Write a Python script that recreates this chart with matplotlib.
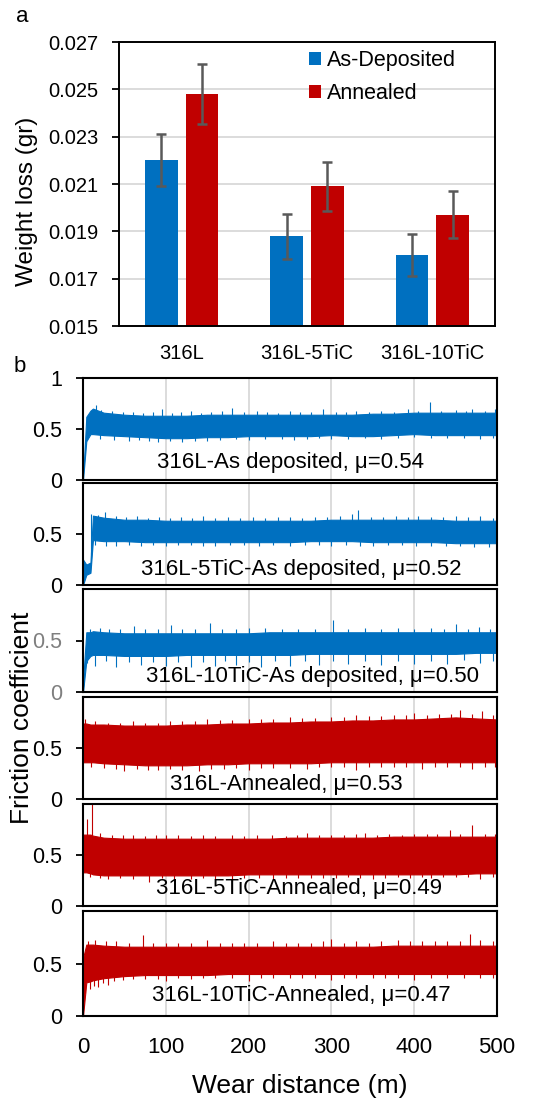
import numpy as np
import matplotlib
matplotlib.use("Agg")
import matplotlib.pyplot as plt

plt.rcParams['font.family'] = ['Liberation Sans', 'DejaVu Sans']

# ---- (a) weight loss data ----
alloys = ['316L', '316L-5TiC', '316L-10TiC']
as_deposited = [0.0220, 0.0188, 0.0180]
as_deposited_err = [0.00110, 0.00095, 0.00090]
annealed = [0.0248, 0.0209, 0.0197]
annealed_err = [0.00125, 0.00105, 0.00100]

# ---- (b) friction traces: band envelopes ----
dist = [0, 4, 9, 12, 25, 50, 75, 100, 125, 150, 175, 200, 225, 250, 275, 300,
        325, 350, 375, 400, 425, 450, 475, 500]

trace_names = ['316L-As deposited, \u03bc=0.54', '316L-5TiC-As deposited, \u03bc=0.52',
               '316L-10TiC-As deposited, \u03bc=0.50', '316L-Annealed, \u03bc=0.53',
               '316L-5TiC-Annealed, \u03bc=0.49', '316L-10TiC-Annealed, \u03bc=0.47']

upper_316L_ad = [0.00, 0.62, 0.68, 0.70, 0.66, 0.64, 0.63, 0.63, 0.63, 0.64, 0.64, 0.64,
                 0.64, 0.64, 0.64, 0.64, 0.64, 0.65, 0.65, 0.66, 0.66, 0.66, 0.66, 0.66]
lower_316L_ad = [0.00, 0.38, 0.45, 0.45, 0.44, 0.43, 0.42, 0.41, 0.41, 0.42, 0.42, 0.43,
                 0.43, 0.43, 0.43, 0.44, 0.43, 0.43, 0.44, 0.45, 0.44, 0.44, 0.44, 0.44]
upper_5TiC_ad = [0.25, 0.20, 0.22, 0.68, 0.66, 0.64, 0.64, 0.63, 0.63, 0.63, 0.63, 0.63,
                 0.63, 0.63, 0.63, 0.64, 0.64, 0.64, 0.64, 0.64, 0.64, 0.63, 0.63, 0.63]
lower_5TiC_ad = [0.00, 0.10, 0.12, 0.44, 0.43, 0.43, 0.42, 0.42, 0.42, 0.42, 0.42, 0.42,
                 0.42, 0.42, 0.43, 0.43, 0.43, 0.42, 0.42, 0.42, 0.42, 0.41, 0.41, 0.41]
upper_10TiC_ad = [0.10, 0.58, 0.58, 0.59, 0.58, 0.57, 0.57, 0.57, 0.57, 0.57, 0.57, 0.57,
                  0.58, 0.58, 0.58, 0.58, 0.58, 0.58, 0.58, 0.58, 0.58, 0.58, 0.58, 0.58]
lower_10TiC_ad = [0.00, 0.30, 0.35, 0.36, 0.36, 0.35, 0.35, 0.35, 0.36, 0.36, 0.36, 0.36,
                  0.36, 0.36, 0.37, 0.37, 0.37, 0.37, 0.37, 0.37, 0.37, 0.37, 0.38, 0.38]
upper_316L_an = [0.74, 0.74, 0.73, 0.73, 0.73, 0.72, 0.72, 0.72, 0.73, 0.73, 0.74, 0.74,
                 0.75, 0.75, 0.76, 0.76, 0.77, 0.77, 0.78, 0.78, 0.79, 0.80, 0.79, 0.78]
lower_316L_an = [0.36, 0.36, 0.36, 0.36, 0.35, 0.34, 0.33, 0.33, 0.33, 0.34, 0.34, 0.35,
                 0.35, 0.35, 0.35, 0.36, 0.36, 0.36, 0.36, 0.36, 0.36, 0.36, 0.36, 0.36]
upper_5TiC_an = [0.70, 0.70, 0.70, 0.69, 0.67, 0.66, 0.66, 0.66, 0.66, 0.66, 0.66, 0.66,
                 0.66, 0.67, 0.67, 0.67, 0.67, 0.67, 0.68, 0.68, 0.68, 0.68, 0.68, 0.68]
lower_5TiC_an = [0.33, 0.33, 0.32, 0.31, 0.30, 0.30, 0.30, 0.30, 0.30, 0.30, 0.30, 0.31,
                 0.31, 0.31, 0.31, 0.31, 0.31, 0.31, 0.31, 0.31, 0.31, 0.31, 0.32, 0.32]
upper_10TiC_an = [0.55, 0.68, 0.68, 0.68, 0.67, 0.66, 0.66, 0.66, 0.66, 0.66, 0.66, 0.66,
                  0.66, 0.66, 0.66, 0.66, 0.66, 0.66, 0.67, 0.67, 0.67, 0.67, 0.67, 0.67]
lower_10TiC_an = [0.00, 0.32, 0.33, 0.34, 0.36, 0.38, 0.39, 0.39, 0.39, 0.39, 0.40, 0.40,
                  0.40, 0.40, 0.40, 0.40, 0.40, 0.40, 0.40, 0.40, 0.40, 0.40, 0.40, 0.40]

# spikes sticking out of the band: (distance m, friction value)
spikes_up_316L_ad = [(16, .74), (22, .69), (35, .68), (48, .67), (60, .67), (72, .66), (84, .67),
                     (95, .70), (108, .66), (118, .67), (130, .68), (142, .66), (155, .67),
                     (168, .68), (180, .71), (195, .67), (210, .68), (222, .67), (235, .66),
                     (250, .68), (262, .67), (275, .67), (290, .70), (305, .67), (318, .67),
                     (330, .68), (345, .67), (360, .68), (375, .67), (392, .70), (405, .68),
                     (419, .76), (432, .68), (450, .69), (462, .68), (470, .70), (485, .68),
                     (498, .70)]
spikes_dn_316L_ad = [(20, .40), (38, .39), (55, .38), (68, .39), (80, .38), (90, .37), (105, .38),
                     (120, .37), (135, .38), (150, .38), (165, .39), (185, .40), (200, .39),
                     (220, .40), (240, .40), (255, .39), (270, .40), (285, .41), (300, .40),
                     (320, .40), (340, .41), (360, .40), (380, .41), (400, .42), (420, .41),
                     (440, .41), (460, .41), (480, .40), (495, .41)]
spikes_up_5TiC_ad = [(10, .70), (18, .69), (27, .72), (40, .68), (52, .67), (65, .68), (78, .66),
                     (92, .67), (105, .66), (118, .67), (132, .66), (145, .68), (160, .66),
                     (175, .67), (190, .66), (205, .67), (220, .66), (235, .67), (250, .67),
                     (265, .66), (280, .67), (295, .67), (310, .68), (325, .70), (332, .74),
                     (348, .67), (362, .67), (378, .68), (392, .67), (405, .68), (420, .67),
                     (435, .67), (450, .68), (465, .67), (480, .68), (495, .66)]
spikes_dn_5TiC_ad = [(14, .39), (28, .38), (40, .38), (55, .39), (70, .38), (85, .39), (100, .38),
                     (115, .39), (130, .39), (145, .38), (160, .38), (178, .39), (195, .39),
                     (212, .38), (230, .39), (250, .38), (268, .39), (285, .39), (300, .38),
                     (318, .39), (335, .38), (350, .38), (368, .39), (385, .39), (402, .38),
                     (420, .38), (438, .38), (455, .38), (472, .37), (490, .37)]
spikes_up_10TiC_ad = [(8, .61), (20, .62), (32, .61), (45, .61), (62, .64), (75, .61), (90, .61),
                      (106, .65), (120, .61), (135, .61), (153, .67), (168, .61), (185, .61),
                      (200, .62), (220, .62), (240, .61), (260, .61), (280, .61), (302, .70),
                      (320, .61), (340, .62), (360, .61), (380, .62), (400, .61), (420, .62),
                      (436, .61), (451, .66), (465, .61), (478, .63), (492, .61)]
spikes_dn_10TiC_ad = [(5, .28), (15, .25), (28, .30), (40, .24), (55, .29), (70, .26), (85, .29),
                      (100, .25), (115, .29), (130, .24), (145, .29), (160, .25), (172, .30),
                      (185, .26), (200, .29), (215, .24), (232, .30), (250, .25), (268, .30),
                      (285, .26), (302, .30), (320, .27), (340, .30), (360, .26), (380, .30),
                      (400, .27), (420, .30), (440, .27), (460, .31), (480, .28), (495, .30)]
spikes_up_316L_an = [(0, 1.0), (2, .78), (15, .76), (30, .75), (45, .75), (60, .76), (75, .75),
                     (90, .75), (105, .76), (120, .76), (135, .76), (150, .78), (165, .77),
                     (180, .77), (200, .78), (215, .78), (230, .78), (250, .80), (265, .79),
                     (280, .79), (300, .80), (315, .80), (330, .82), (345, .81), (360, .81),
                     (375, .82), (390, .82), (400, .84), (415, .82), (430, .83), (445, .83),
                     (455, .87), (470, .83), (482, .86), (495, .82)]
spikes_dn_316L_an = [(10, .31), (25, .30), (40, .29), (50, .27), (65, .29), (78, .28), (90, .28),
                     (105, .29), (120, .28), (140, .27), (155, .29), (170, .29), (185, .30),
                     (200, .28), (215, .30), (230, .30), (250, .30), (270, .29), (285, .31),
                     (300, .31), (315, .31), (330, .28), (345, .31), (360, .31), (375, .31),
                     (390, .31), (410, .29), (425, .31), (440, .31), (455, .31), (470, .29),
                     (485, .31), (498, .31)]
spikes_up_5TiC_an = [(5, .85), (11, 1.0), (20, .72), (35, .70), (48, .70), (60, .70), (75, .69),
                     (88, .70), (100, .70), (115, .70), (130, .69), (145, .70), (160, .69),
                     (180, .70), (195, .69), (210, .70), (228, .70), (245, .69), (258, .70),
                     (270, .72), (285, .70), (300, .70), (315, .70), (330, .71), (340, .72),
                     (355, .70), (370, .71), (385, .70), (400, .71), (415, .71), (428, .71),
                     (443, .75), (455, .71), (470, .79), (485, .71), (498, .71)]
spikes_dn_5TiC_an = [(8, .28), (20, .27), (30, .26), (45, .27), (60, .26), (80, .24), (95, .27),
                     (110, .26), (130, .26), (145, .27), (160, .26), (180, .25), (195, .27),
                     (212, .27), (230, .26), (245, .27), (260, .27), (275, .27), (290, .27),
                     (305, .27), (320, .28), (335, .27), (350, .26), (365, .27), (380, .28),
                     (395, .27), (410, .28), (420, .27), (435, .28), (450, .28), (465, .28),
                     (480, .26), (495, .28)]
spikes_up_10TiC_an = [(6, .71), (15, .72), (28, .71), (40, .71), (55, .70), (72, .77), (85, .70),
                      (100, .70), (115, .70), (130, .70), (150, .72), (165, .70), (180, .70),
                      (195, .70), (210, .70), (230, .71), (245, .70), (260, .70), (275, .70),
                      (290, .71), (300, .73), (315, .70), (330, .71), (345, .70), (360, .71),
                      (380, .72), (395, .71), (410, .71), (425, .71), (440, .71), (455, .71),
                      (467, .78), (480, .72), (495, .71)]
spikes_dn_10TiC_an = [(3, .22), (8, .26), (13, .29), (18, .28), (24, .31), (30, .30), (38, .33),
                      (48, .34), (60, .35), (75, .35), (90, .35), (100, .33), (115, .36),
                      (130, .35), (145, .36), (160, .36), (180, .36), (200, .33), (215, .36),
                      (230, .36), (250, .36), (265, .36), (280, .36), (300, .34), (315, .36),
                      (330, .36), (350, .36), (365, .36), (380, .36), (400, .34), (420, .36),
                      (440, .36), (460, .36), (480, .36), (495, .36)]

uppers = [upper_316L_ad, upper_5TiC_ad, upper_10TiC_ad, upper_316L_an, upper_5TiC_an, upper_10TiC_an]
lowers = [lower_316L_ad, lower_5TiC_ad, lower_10TiC_ad, lower_316L_an, lower_5TiC_an, lower_10TiC_an]
spikes_up = [spikes_up_316L_ad, spikes_up_5TiC_ad, spikes_up_10TiC_ad,
             spikes_up_316L_an, spikes_up_5TiC_an, spikes_up_10TiC_an]
spikes_dn = [spikes_dn_316L_ad, spikes_dn_5TiC_ad, spikes_dn_10TiC_ad,
             spikes_dn_316L_an, spikes_dn_5TiC_an, spikes_dn_10TiC_an]
text_pos = [(250, 0.17), (264, 0.15), (277, 0.15), (246, 0.14), (261, 0.17), (264, 0.20)]

BLUE = '#0070C0'
RED = '#C00000'
trace_colors = [BLUE, BLUE, BLUE, RED, RED, RED]

W, H = 548, 1101
fig = plt.figure(figsize=(W / 100, H / 100), dpi=100)


def px_axes(l, t, r, b):
    return fig.add_axes([l / W, 1 - b / H, (r - l) / W, (b - t) / H])


# ---- panel a ----
ax = px_axes(119, 42, 495, 326)
x = np.arange(len(alloys))
bw = 0.26
off = 0.163
err_kw = dict(ecolor='#595959', elinewidth=1.8, capsize=3.6, capthick=1.8)
ax.bar(x - off, as_deposited, bw, yerr=as_deposited_err, color=BLUE, label='As-Deposited',
       error_kw=err_kw, zorder=2)
ax.bar(x + off, annealed, bw, yerr=annealed_err, color=RED, label='Annealed',
       error_kw=err_kw, zorder=2)
ax.set_ylim(0.015, 0.027)
ax.set_xlim(-0.5, 2.5)
ax.set_yticks(np.arange(0.015, 0.0271, 0.002))
ax.set_yticklabels(['0.015', '0.017', '0.019', '0.021', '0.023', '0.025', '0.027'])
ax.set_xticks(x)
ax.set_xticklabels(alloys)
ax.yaxis.grid(True, color='#d9d9d9', lw=1.3, zorder=0)
ax.set_axisbelow(True)
ax.tick_params(axis='y', length=5, width=1.3, pad=10, labelsize=14.5)
ax.tick_params(axis='x', length=0, pad=13, labelsize=14.5)
for s in ax.spines.values():
    s.set_linewidth(1.4)
    s.set_color('black')
fig.legend(*ax.get_legend_handles_labels(), loc='upper left',
           bbox_to_anchor=(309 / W, 1 - 50 / H), frameon=False,
           fontsize=15.5, handlelength=0.55, handleheight=0.55, handletextpad=0.3,
           labelspacing=0.55, borderpad=0, borderaxespad=0)
fig.text(27 / W, 1 - 201 / H, 'Weight loss (gr)', rotation=90, fontsize=17.5,
         ha='center', va='center')
fig.text(22 / W, 1 - 17 / H, 'a', fontsize=16, ha='center', va='center')
fig.text(20 / W, 1 - 367 / H, 'b', fontsize=16, ha='center', va='center')

# ---- panel b ----
tops = [378, 483, 589, 697, 804, 911]
bots = [480, 585, 692, 799, 906, 1016]
for i in range(6):
    axb = px_axes(83, tops[i], 497, bots[i])
    c = trace_colors[i]
    axb.fill_between(dist, lowers[i], uppers[i], color=c, lw=0.8, zorder=2)
    mid = [(u + l) / 2 for u, l in zip(uppers[i], lowers[i])]
    ux = [p[0] for p in spikes_up[i]]
    uy = [p[1] for p in spikes_up[i]]
    dx = [p[0] for p in spikes_dn[i]]
    dy = [p[1] for p in spikes_dn[i]]
    axb.vlines(ux, np.interp(ux, dist, mid), uy, color=c, lw=0.8, zorder=2)
    axb.vlines(dx, dy, np.interp(dx, dist, mid), color=c, lw=0.8, zorder=2)
    axb.set_xlim(0, 500)
    axb.set_ylim(0, 1)
    axb.set_xticks([0, 100, 200, 300, 400, 500])
    axb.xaxis.grid(True, color='#d9d9d9', lw=1.3, zorder=0)
    axb.set_axisbelow(True)
    if i == 0:
        axb.set_yticks([0, 0.5, 1])
        axb.set_yticklabels(['0', '0.5', '1'])
    else:
        axb.set_yticks([0, 0.5])
        axb.set_yticklabels(['0', '0.5'])
    lc = '#7f7f7f' if i == 2 else 'black'
    axb.tick_params(axis='y', length=5, width=1.3, pad=10, labelsize=15.5, labelcolor=lc)
    axb.tick_params(axis='x', length=0, pad=15, labelsize=16)
    if i < 5:
        axb.set_xticklabels([])
    for s in axb.spines.values():
        s.set_linewidth(1.5)
        s.set_color('black')
    axb.text(text_pos[i][0], text_pos[i][1], trace_names[i], fontsize=16,
             ha='center', va='center', zorder=5)

fig.text(300 / W, 1 - 1086 / H, 'Wear distance (m)', fontsize=19, ha='center', va='center')
fig.text(22 / W, 1 - 718 / H, 'Friction coefficient', rotation=90, fontsize=19,
         ha='center', va='center')

fig.savefig('out.png', dpi=100)
